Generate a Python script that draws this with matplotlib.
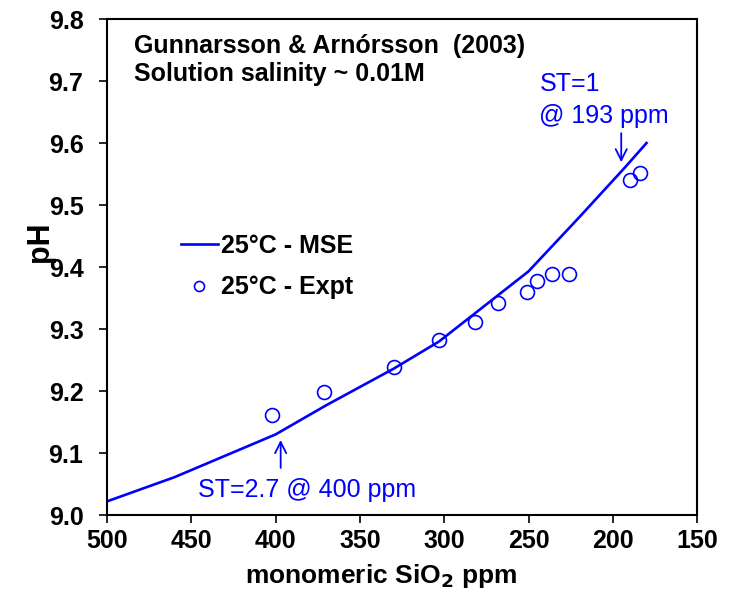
import numpy as np
import matplotlib.pyplot as plt

plt.rcParams['font.family'] = ['Liberation Sans', 'DejaVu Sans']

# MSE model curve, 25 C
mse_sio2 = [500, 460, 400, 370, 330, 303, 250, 220, 193, 180]
mse_ph = [9.022, 9.061, 9.130, 9.177, 9.236, 9.280, 9.393, 9.480, 9.560, 9.600]

# experimental data, 25 C
expt_sio2 = [402, 371, 330, 303, 282, 268, 251, 245, 236, 226, 190, 184]
expt_ph = [9.161, 9.199, 9.238, 9.282, 9.311, 9.342, 9.359, 9.378, 9.389, 9.389, 9.541, 9.552]

blue = "#0000FF"
fs = 18

fig = plt.figure(figsize=(7.39, 5.89), dpi=100)
ax = fig.add_axes([0.1448, 0.1256, 0.7985, 0.8421])

ax.plot(mse_sio2, mse_ph, color=blue, lw=1.9, label="25°C - MSE")
ax.plot(expt_sio2, expt_ph, ls="none", marker="o", ms=10, mfc="none",
        mec=blue, mew=1.2, label="25°C - Expt")

ax.set_xlim(500, 150)
ax.set_ylim(9.0, 9.8)
ax.set_xticks(np.arange(500, 149, -50))
ax.set_yticks(np.arange(9.0, 9.81, 0.1))
ax.yaxis.set_major_formatter(plt.FormatStrFormatter("%.1f"))

ax.tick_params(direction="out", length=6, width=1.2, labelsize=fs)
ax.tick_params(axis="y", pad=11)
ax.tick_params(axis="x", pad=4)
for lab in ax.get_xticklabels() + ax.get_yticklabels():
    lab.set_fontweight("bold")
for sp in ax.spines.values():
    sp.set_linewidth(1.5)

ax.set_xlabel("monomeric SiO$_\\mathbf{2}$ ppm", fontsize=19, fontweight="bold", va="center")
ax.xaxis.set_label_coords(0.465, -0.122)
ax.set_ylabel("pH", fontsize=22, fontweight="bold", va="center")
ax.yaxis.set_label_coords(-0.114, 0.55)

ax.text(484, 9.745, "Gunnarsson & Arnórsson  (2003)", fontsize=fs,
        fontweight="bold", va="baseline")
ax.text(484, 9.700, "Solution salinity ~ 0.01M", fontsize=fs,
        fontweight="bold", va="baseline")

ax.legend(loc="upper left", bbox_to_anchor=(0.126, 0.567), frameon=False,
          prop={"size": fs, "weight": "bold"}, handlelength=1.45,
          handletextpad=0.15, labelspacing=0.7, borderpad=0,
          borderaxespad=0, markerscale=0.72)

ax.annotate("", xy=(195, 9.569), xytext=(195, 9.616),
            arrowprops=dict(arrowstyle="->", color=blue, lw=1.3,
                            mutation_scale=20, shrinkA=0, shrinkB=0))
ax.text(243, 9.695, "ST=1", color=blue, fontsize=fs, va="center")
ax.text(244, 9.644, "@ 193 ppm", color=blue, fontsize=fs, va="center")

ax.annotate("", xy=(397, 9.121), xytext=(397, 9.076),
            arrowprops=dict(arrowstyle="->", color=blue, lw=1.3,
                            mutation_scale=20, shrinkA=0, shrinkB=0))
ax.text(446, 9.04, "ST=2.7 @ 400 ppm", color=blue, fontsize=fs, ha="left",
        va="center")

fig.savefig("out.png", dpi=100)
